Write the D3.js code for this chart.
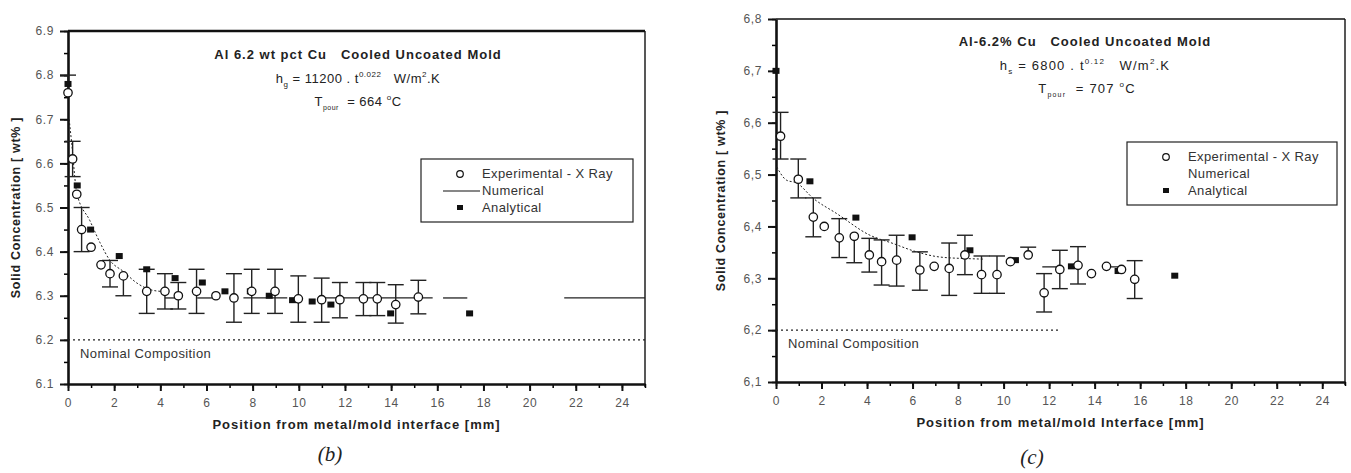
<!DOCTYPE html>
<html>
<head>
<meta charset="utf-8">
<script src="https://cdn.jsdelivr.net/npm/d3@7"></script>
<style>
  body { margin: 0; background: #fff; }
  svg { display: block; }
  text { font-family: "Liberation Sans", Arial, sans-serif; fill: #222; }
</style>
</head>
<body>
<div id="chart"></div>
<script>
// ---- data: panel (b) ----
var bExpX = [0, 0.2, 0.38, 0.59, 1.0, 1.43, 1.82, 2.4, 3.41, 4.2, 4.78, 5.57, 6.41, 7.19, 7.96, 8.97, 9.98, 10.99, 11.78, 12.8, 13.4, 14.2, 15.18];
var bExpY = [6.76, 6.61, 6.53, 6.45, 6.41, 6.37, 6.35, 6.345, 6.31, 6.31, 6.30, 6.31, 6.30, 6.295, 6.31, 6.31, 6.293, 6.291, 6.291, 6.293, 6.293, 6.28, 6.297];
var bErrLow = [null, 6.57, null, 6.40, null, null, 6.32, 6.30, 6.26, 6.27, 6.27, 6.26, null, 6.24, 6.26, 6.26, 6.24, 6.24, 6.25, 6.255, 6.255, 6.238, 6.259];
var bErrHigh = [6.80, 6.65, null, 6.50, null, null, 6.38, null, 6.36, 6.35, 6.33, 6.36, null, 6.35, 6.36, 6.36, 6.345, 6.34, 6.33, 6.33, 6.33, 6.325, 6.335];
var bAnaX = [0, 0.4, 0.98, 2.22, 3.41, 4.64, 5.82, 6.8, 7.9, 8.72, 9.73, 10.58, 11.39, 13.98, 17.4];
var bAnaY = [6.78, 6.55, 6.45, 6.39, 6.36, 6.34, 6.33, 6.31, 6.31, 6.30, 6.29, 6.287, 6.28, 6.26, 6.26];
var bNumX = [0.05, 0.16, 0.38, 0.95, 1.39, 1.82, 2.4, 2.98, 3.55, 4.0];
var bNumY = [6.70, 6.646, 6.533, 6.47, 6.42, 6.38, 6.355, 6.329, 6.314, 6.31];
var bNumLevel = 6.295;
var bNumSegments = [[4.2, 4.8], [5.6, 6.4], [7.6, 9.5], [11.0, 15.8], [16.25, 17.3], [21.5, 25]];
var bYTicks = [6.1, 6.2, 6.3, 6.4, 6.5, 6.6, 6.7, 6.8, 6.9];
var bYLabels = ["6.1", "6.2", "6.3", "6.4", "6.5", "6.6", "6.7", "6.8", "6.9"];

// ---- data: panel (c) ----
var cExpX = [0.2, 0.98, 1.64, 2.12, 2.78, 3.44, 4.1, 4.64, 5.3, 6.32, 6.95, 7.61, 8.3, 9.03, 9.71, 10.3, 11.08, 11.78, 12.47, 13.27, 13.86, 14.52, 15.18, 15.76];
var cExpY = [6.574, 6.491, 6.418, 6.40, 6.378, 6.381, 6.345, 6.332, 6.335, 6.316, 6.323, 6.319, 6.345, 6.307, 6.307, 6.332, 6.345, 6.272, 6.317, 6.325, 6.309, 6.323, 6.317, 6.298];
var cErrLow = [6.53, 6.455, 6.38, null, 6.34, 6.33, 6.312, 6.287, 6.285, 6.277, null, 6.267, 6.307, 6.271, 6.271, null, null, 6.235, 6.28, 6.289, null, null, null, 6.261];
var cErrHigh = [6.62, 6.53, 6.455, null, 6.415, null, 6.377, 6.374, 6.383, 6.351, null, 6.368, 6.383, 6.343, 6.343, null, 6.36, 6.309, 6.354, 6.361, null, null, null, 6.334];
var cAnaX = [0, 1.49, 3.51, 5.98, 8.52, 10.52, 12.98, 15.03, 17.52];
var cAnaY = [6.70, 6.487, 6.417, 6.379, 6.354, 6.335, 6.323, 6.314, 6.305];
var cNumX = [0.03, 0.47, 0.9, 1.64, 2.66, 4.13, 5.15, 6.03, 7.2, 8.37, 9.1];
var cNumY = [6.515, 6.489, 6.484, 6.454, 6.425, 6.383, 6.367, 6.353, 6.341, 6.338, 6.337];
var cNumLevel = 6.322;
var cNumSegments = [[11.7, 12.5], [14.5, 15.2]];
var cYTicks = [6.1, 6.2, 6.3, 6.4, 6.5, 6.6, 6.7, 6.8];
var cYLabels = ["6,1", "6,2", "6,3", "6,4", "6,5", "6,6", "6,7", "6,8"];

var xTicks = [0, 2, 4, 6, 8, 10, 12, 14, 16, 18, 20, 22, 24];
var xMinorTicks = d3.range(0, 26);
var nominal = 6.2;

var width = 1351, height = 473;
var svg = d3.select("#chart").append("svg")
  .attr("width", width)
  .attr("height", height);

function drawPanel(p) {
  var x = d3.scaleLinear().domain([0, 25]).range([p.left, p.right]);
  var y = d3.scaleLinear().domain([6.1, p.yMax]).range([p.bottom, p.top]);
  var g = svg.append("g");

  // top and right frame
  g.append("line").attr("x1", p.left).attr("x2", p.right).attr("y1", p.top).attr("y2", p.top)
    .attr("stroke", "#111").attr("stroke-width", p.topWidth);
  g.append("line").attr("x1", p.right).attr("x2", p.right).attr("y1", p.top).attr("y2", p.bottom + 3)
    .attr("stroke", "#111").attr("stroke-width", 1.4);

  // minor ticks
  var yMinor = d3.range(0, Math.round((p.yMax - 6.1) / 0.05) + 1).map(function(i) { return 6.1 + i * 0.05; });
  g.append("g").attr("transform", "translate(" + p.left + ",0)")
    .call(d3.axisLeft(y).tickValues(yMinor).tickSize(4).tickFormat(""))
    .call(function(a) { a.select(".domain").remove(); a.selectAll("line").attr("stroke-width", 1.5); });
  g.append("g").attr("transform", "translate(0," + p.bottom + ")")
    .call(d3.axisBottom(x).tickValues(xMinorTicks).tickSize(4).tickFormat(""))
    .call(function(a) { a.select(".domain").remove(); a.selectAll("line").attr("stroke-width", 1.5); });

  // major axes
  var yAxis = g.append("g").attr("transform", "translate(" + p.left + ",0)")
    .call(d3.axisLeft(y).tickValues(p.yTicks).tickSize(8).tickSizeOuter(0).tickPadding(6)
      .tickFormat(function(d, i) { return p.yLabels[i]; }));
  var xAxis = g.append("g").attr("transform", "translate(0," + p.bottom + ")")
    .call(d3.axisBottom(x).tickValues(xTicks).tickSize(7).tickSizeOuter(0).tickPadding(7));
  [yAxis, xAxis].forEach(function(a) {
    a.select(".domain").attr("stroke", "#111").attr("stroke-width", 2.6);
    a.selectAll(".tick line").attr("stroke", "#111").attr("stroke-width", 2);
    a.selectAll(".tick text").style("font-size", "12px").style("fill", "#555")
      .style("letter-spacing", "0.6px").style("font-family", "'Liberation Sans', Arial, sans-serif");
  });

  // nominal composition
  g.append("line")
    .attr("x1", x(0)).attr("x2", x(p.nominalEnd))
    .attr("y1", y(nominal)).attr("y2", y(nominal))
    .attr("stroke", "#222").attr("stroke-width", 1.1).attr("stroke-dasharray", "2,3");
  g.append("text").attr("x", x(0) + 12).attr("y", y(nominal) + 18)
    .style("font-size", "13px").style("letter-spacing", "0.4px").style("fill", "#333").text("Nominal Composition");

  // numerical: dotted curve + solid level segments
  var line = d3.line()
    .x(function(d) { return x(d[0]); })
    .y(function(d) { return y(d[1]); })
    .curve(d3.curveMonotoneX);
  g.append("path")
    .datum(p.numX.map(function(v, i) { return [v, p.numY[i]]; }))
    .attr("d", line)
    .attr("fill", "none").attr("stroke", "#222").attr("stroke-width", 1).attr("stroke-dasharray", "2,2");
  g.selectAll(".seg").data(p.numSeg).enter().append("line")
    .attr("x1", function(d) { return x(d[0]); })
    .attr("x2", function(d) { return x(d[1]); })
    .attr("y1", y(p.numLevel)).attr("y2", y(p.numLevel))
    .attr("stroke", "#222").attr("stroke-width", 1.3);

  // error bars
  var cap = 8;
  var errs = p.expX.map(function(v, i) { return { x: v, y: p.expY[i], lo: p.errLow[i], hi: p.errHigh[i] }; });
  errs.forEach(function(d) {
    if (d.lo === null && d.hi === null) return;
    var top = d.hi !== null ? d.hi : d.y;
    var bot = d.lo !== null ? d.lo : d.y;
    g.append("line").attr("x1", x(d.x)).attr("x2", x(d.x)).attr("y1", y(top)).attr("y2", y(bot))
      .attr("stroke", "#222").attr("stroke-width", 1.4);
    [d.hi, d.lo].forEach(function(e) {
      if (e === null) return;
      g.append("line").attr("x1", x(d.x) - cap).attr("x2", x(d.x) + cap).attr("y1", y(e)).attr("y2", y(e))
        .attr("stroke", "#222").attr("stroke-width", 1.4);
    });
  });

  // analytical squares
  g.selectAll(".ana").data(p.anaX).enter().append("rect")
    .attr("x", function(d) { return x(d) - 3.5; })
    .attr("y", function(d, i) { return y(p.anaY[i]) - 3; })
    .attr("width", 7).attr("height", 6)
    .attr("fill", "#111");

  // experimental circles
  g.selectAll(".exp").data(p.expX).enter().append("circle")
    .attr("cx", function(d) { return x(d); })
    .attr("cy", function(d, i) { return y(p.expY[i]); })
    .attr("r", 4.2)
    .attr("fill", "#fff").attr("stroke", "#111").attr("stroke-width", 1.3);

  // annotations
  var cx = p.noteX;
  g.append("text").attr("x", cx).attr("y", p.noteY).attr("text-anchor", "middle")
    .style("font-size", "13px").style("font-weight", "bold").style("letter-spacing", "1px")
    .attr("xml:space", "preserve").text(p.title);
  var h = g.append("text").attr("x", cx).attr("y", p.noteY + 24).attr("text-anchor", "middle")
    .style("font-size", "13px").style("letter-spacing", p.noteSpacing).attr("xml:space", "preserve");
  h.append("tspan").text("h");
  h.append("tspan").attr("dy", 4).style("font-size", "8px").text(p.hSub);
  h.append("tspan").attr("dy", -4).text(" = " + p.hCoef + " . t");
  h.append("tspan").attr("dy", -6).style("font-size", "8px").text(p.hExp);
  h.append("tspan").attr("dy", 6).text("   W/m");
  h.append("tspan").attr("dy", -6).style("font-size", "8px").text("2");
  h.append("tspan").attr("dy", 6).text(".K");
  var t = g.append("text").attr("x", cx + p.tShift).attr("y", p.noteY + 47).attr("text-anchor", "middle")
    .style("font-size", "13px").style("letter-spacing", p.noteSpacing).attr("xml:space", "preserve");
  t.append("tspan").text("T");
  t.append("tspan").attr("dy", 4).style("font-size", "7px").text("pour");
  t.append("tspan").attr("dy", -4).text("  = " + p.tPour + " ");
  t.append("tspan").attr("dy", -6).style("font-size", "8px").text("o");
  t.append("tspan").attr("dy", 6).text("C");

  // legend
  var lg = g.append("g").attr("transform", "translate(" + p.legX + "," + p.legY + ")");
  lg.append("rect").attr("width", p.legW).attr("height", 63)
    .attr("fill", "#fff").attr("stroke", "#222").attr("stroke-width", 1.2);
  lg.append("circle").attr("cx", p.legSym).attr("cy", 15).attr("r", 3.3)
    .attr("fill", "#fff").attr("stroke", "#111").attr("stroke-width", 1.2);
  if (p.legLine) {
    lg.append("line").attr("x1", p.legSym - 17).attr("x2", p.legSym + 20).attr("y1", 32).attr("y2", 32)
      .attr("stroke", "#111").attr("stroke-width", 1.1);
  }
  lg.append("rect").attr("x", p.legSym - 3).attr("y", 46).attr("width", 6).attr("height", 5).attr("fill", "#111");
  ["Experimental - X Ray", "Numerical", "Analytical"].forEach(function(s, i) {
    lg.append("text").attr("x", p.legSym + 22).attr("y", 19 + i * 17)
      .style("font-size", "13px").style("letter-spacing", "0.4px").style("fill", "#333").text(s);
  });

  // axis titles
  g.append("text").attr("x", (p.left + p.right) / 2).attr("y", p.bottom + 45).attr("text-anchor", "middle")
    .style("font-size", "13px").style("font-weight", "bold").style("letter-spacing", "1px").text(p.xTitle);
  g.append("text").attr("transform", "translate(" + p.yTitleX + "," + ((p.top + p.bottom) / 2) + ") rotate(-90)")
    .attr("text-anchor", "middle").style("font-size", "12.5px").style("font-weight", "bold").style("letter-spacing", "0.7px")
    .text("Solid Concentration [ wt% ]");
  g.append("text").attr("x", p.capX).attr("y", p.capY).attr("text-anchor", "middle")
    .style("font-family", "'Liberation Serif', 'Times New Roman', serif").style("font-style", "italic").style("font-size", "21px")
    .text(p.caption);
}

drawPanel({
  left: 68, right: 645, top: 31, bottom: 384, yMax: 6.9, topWidth: 2.4,
  yTicks: bYTicks, yLabels: bYLabels,
  expX: bExpX, expY: bExpY, errLow: bErrLow, errHigh: bErrHigh,
  anaX: bAnaX, anaY: bAnaY, numX: bNumX, numY: bNumY, numLevel: bNumLevel, numSeg: bNumSegments,
  nominalEnd: 25,
  title: "Al 6.2 wt pct Cu   Cooled Uncoated Mold", noteX: 358, noteY: 59, tShift: 0, noteSpacing: "0.5px",
  hSub: "g", hCoef: "11200", hExp: "0.022", tPour: "664",
  legX: 421, legY: 159, legW: 212, legSym: 39, legLine: true,
  xTitle: "Position from metal/mold interface [mm]", yTitleX: 20,
  caption: "(b)", capX: 330, capY: 461
});

drawPanel({
  left: 776, right: 1345, top: 19, bottom: 382, yMax: 6.8, topWidth: 1.4,
  yTicks: cYTicks, yLabels: cYLabels,
  expX: cExpX, expY: cExpY, errLow: cErrLow, errHigh: cErrHigh,
  anaX: cAnaX, anaY: cAnaY, numX: cNumX, numY: cNumY, numLevel: cNumLevel, numSeg: cNumSegments,
  nominalEnd: 12.4,
  title: "Al-6.2% Cu   Cooled Uncoated Mold", noteX: 1085, noteY: 46, tShift: 2, noteSpacing: "1.2px",
  hSub: "s", hCoef: "6800", hExp: "0.12", tPour: "707",
  legX: 1127, legY: 142, legW: 210, legSym: 39, legLine: false,
  xTitle: "Position from metal/mold Interface [mm]", yTitleX: 725,
  caption: "(c)", capX: 1032, capY: 464
});
</script>
</body>
</html>
